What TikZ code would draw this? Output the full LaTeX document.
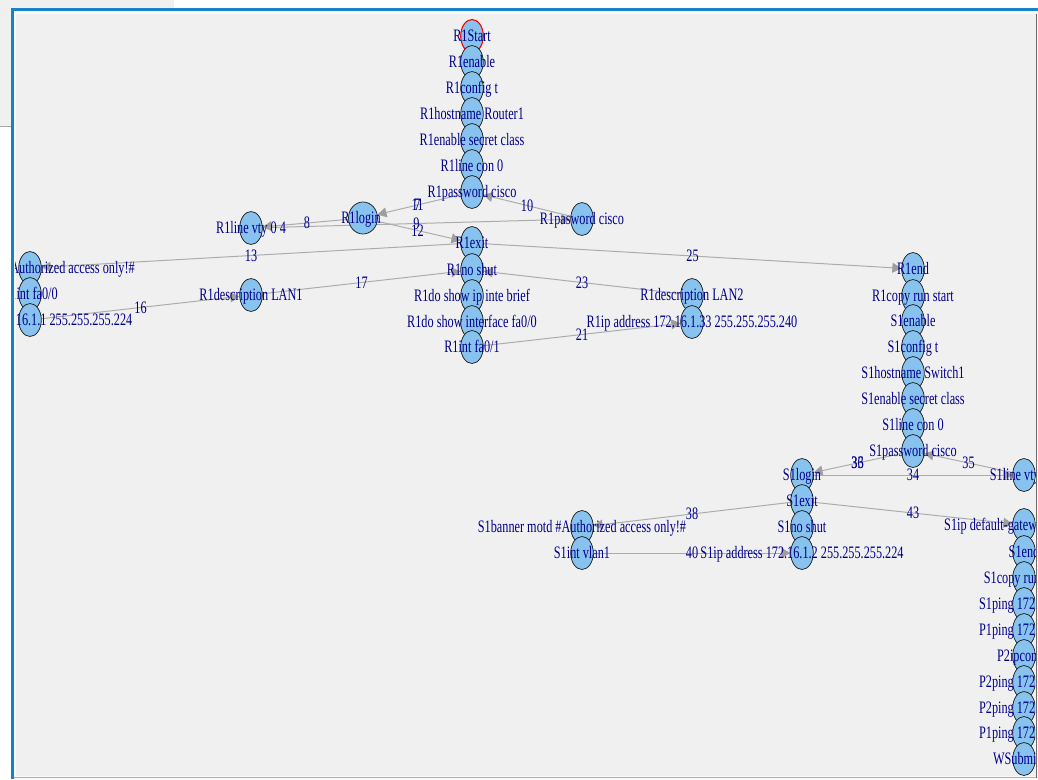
\documentclass[tikz,border=0pt]{standalone}
\usepackage{fontspec}
\newfontfamily\labelfont[FakeStretch=0.7,Ligatures=NoCommon]{Liberation Serif}
\usetikzlibrary{shapes.geometric,arrows.meta,calc}
\pgfdeclarelayer{bg}
\pgfdeclarelayer{edges}
\pgfdeclarelayer{front}
\pgfsetlayers{bg,edges,main,front}

\definecolor{vfill}{RGB}{135,195,238}
\definecolor{vline}{RGB}{35,35,35}
\definecolor{lbl}{RGB}{0,0,139}
\definecolor{egray}{RGB}{172,172,172}
\definecolor{agray}{RGB}{158,158,158}
\definecolor{winblue}{RGB}{22,132,196}
\definecolor{panel}{RGB}{240,240,240}
\definecolor{panelhi}{RGB}{248,248,248}

\tikzset{
  vert/.style={ellipse, draw=vline, fill=vfill, line width=0.75pt,
    minimum width=22.6pt, minimum height=33pt, inner sep=0pt},
  startvert/.style={vert, draw=red, line width=1.1pt},
  widevert/.style={vert, minimum width=29pt, minimum height=32pt},
  vtext/.style={font=\labelfont\fontsize{17.5}{18}\selectfont, text=lbl,
    inner sep=0pt, text height=11.6pt, text depth=0pt, anchor=center},
  elab/.style={vtext},
  link/.style={draw=egray, line width=1pt,
    -{Triangle[length=9pt,width=10pt,color=agray]}},
}

\begin{document}
\begin{tikzpicture}[x=1pt,y=-1pt]
\useasboundingbox (0,0) rectangle (1038,779);

% window chrome
\begin{pgfonlayer}{bg}
  \fill[white] (0,0) rectangle (1038,779);
  \fill[panel] (0,0) rectangle (174,8);
  \fill[panel] (0,0) rectangle (11,126);
  \draw[gray!70, line width=0.8pt] (0,126) -- (11,126);
  \fill[winblue] (11,8) rectangle (1038,779);
  \fill[panelhi] (14,11) rectangle (1038,779);
  \fill[panel] (16,14) rectangle (1036,776);
  \draw[gray!85!black, line width=1.2pt] (1036.4,14) -- (1036.4,778);
  \draw[gray!60, line width=1pt] (14,777.5) -- (1036,777.5);
\end{pgfonlayer}

% vertices
\begin{scope}
\clip (15,11) rectangle (1035,776);
\node[startvert] (R1Start)  at (472,36)  {};
\node[vert] (R1enable)  at (472,62)  {};
\node[vert] (R1configt) at (472,88)  {};
\node[vert] (R1host)    at (472,114) {};
\node[vert] (R1ensec)   at (472,140) {};
\node[vert] (R1con)     at (472,166) {};
\node[vert] (R1pw)      at (472,192) {};
\node[widevert] (R1login) at (363,218) {};
\node[vert] (R1vty)     at (251,228) {};
\node[vert] (R1pwb)     at (582,219) {};
\node[vert] (R1exit)    at (472,243) {};
\node[vert] (R1banner)  at (30,268)  {};
\node[vert] (R1fa00)    at (30,294)  {};
\node[vert] (R1ipa)     at (30,320)  {};
\node[vert] (R1lana)    at (251,295) {};
\node[vert] (R1noshut)  at (472,270) {};
\node[vert] (R1showip)  at (472,296) {};
\node[vert] (R1showif)  at (472,322) {};
\node[vert] (R1fa01)    at (472,347) {};
\node[vert] (R1lanb)    at (692,295) {};
\node[vert] (R1ipb)     at (692,322) {};
\node[vert] (R1end)     at (913,269) {};
\node[vert] (R1copy)    at (913,296) {};
\node[vert] (S1enable)  at (913,321) {};
\node[vert] (S1configt) at (913,347) {};
\node[vert] (S1host)    at (913,373) {};
\node[vert] (S1ensec)   at (913,399) {};
\node[vert] (S1con)     at (913,425) {};
\node[vert] (S1pw)      at (913,451) {};
\node[vert] (S1login)   at (802,475) {};
\node[vert] (S1vty)     at (1024,475) {};
\node[vert] (S1exit)    at (802,501) {};
\node[vert] (S1banner)  at (582,527) {};
\node[vert] (S1vlan)    at (582,553) {};
\node[vert] (S1noshut)  at (802,527) {};
\node[vert] (S1ip)      at (802,553) {};
\node[vert] (S1gw)      at (1024,525) {};
\node[vert] (S1end)     at (1024,552) {};
\node[vert] (S1copy)    at (1024,578) {};
\node[vert] (S1ping)    at (1024,604) {};
\node[vert] (P1ping)    at (1024,630) {};
\node[vert] (P2ipc)     at (1024,656) {};
\node[vert] (P2ping)    at (1024,682) {};
\node[vert] (P2pingb)   at (1024,708) {};
\node[vert] (P1pingb)   at (1024,733) {};
\node[vert] (WSub)      at (1024,759) {};
\end{scope}

% edges and their numbers
\begin{pgfonlayer}{edges}
\begin{scope}
\clip (15,11) rectangle (1035,776);
\foreach \a/\b in {R1Start/R1enable, R1enable/R1configt, R1configt/R1host,
  R1host/R1ensec, R1ensec/R1con, R1con/R1pw, R1pw/R1login, R1login/R1vty,
  R1vty/R1pwb, R1pwb/R1pw, R1login/R1exit, R1exit/R1banner,
  R1banner/R1fa00, R1fa00/R1ipa, R1ipa/R1lana, R1lana/R1noshut,
  R1noshut/R1showip, R1showip/R1showif, R1showif/R1fa01, R1fa01/R1ipb,
  R1ipb/R1lanb, R1lanb/R1noshut, R1noshut/R1exit, R1exit/R1end,
  R1end/R1copy, R1copy/S1enable, S1enable/S1configt, S1configt/S1host,
  S1host/S1ensec, S1ensec/S1con, S1con/S1pw, S1pw/S1login, S1login/S1vty,
  S1vty/S1pw, S1login/S1exit, S1exit/S1banner, S1banner/S1vlan,
  S1vlan/S1ip, S1ip/S1noshut, S1noshut/S1exit, S1exit/S1gw,
  S1gw/S1end, S1end/S1copy, S1copy/S1ping, S1ping/P1ping, P1ping/P2ipc,
  P2ipc/P2ping, P2ping/P2pingb, P2pingb/P1pingb, P1pingb/WSub}
  \draw[link] (\a) -- (\b);
\foreach \a/\b/\n in {R1pw/R1login/7, R1login/R1vty/8, R1vty/R1pwb/9,
  R1pwb/R1pw/10, R1pw/R1login/11, R1login/R1exit/12, R1exit/R1banner/13,
  R1ipa/R1lana/16, R1lana/R1noshut/17, R1fa01/R1ipb/21,
  R1lanb/R1noshut/23, R1exit/R1end/25, S1pw/S1login/33,
  S1login/S1vty/34, S1vty/S1pw/35, S1pw/S1login/36, S1exit/S1banner/38,
  S1vlan/S1ip/40, S1exit/S1gw/43}
  \node[elab] at ($(\a)!0.5!(\b)$) {\n};
\end{scope}
\end{pgfonlayer}

% vertex labels
\begin{pgfonlayer}{front}
\begin{scope}
\clip (15,11) rectangle (1035,776);
\node[vtext] at (R1Start)   {R1Start};
\node[vtext] at (R1enable)  {R1enable};
\node[vtext] at (R1configt) {R1config t};
\node[vtext] at (R1host)    {R1hostname Router1};
\node[vtext] at (R1ensec)   {R1enable secret class};
\node[vtext] at (R1con)     {R1line con 0};
\node[vtext] at (R1pw)      {R1password cisco};
\node[vtext] at ($(R1login)+(-2,0)$) {R1login};
\node[vtext] at (R1vty)     {R1line vty 0 4};
\node[vtext] at (R1pwb)     {R1pasword cisco};
\node[vtext] at (R1exit)    {R1exit};
\node[vtext] at (R1banner)  {R1banner motd \#Authorized access only!\#};
\node[vtext] at (R1fa00)    {R1int fa0/0};
\node[vtext] at (R1ipa)     {R1ip address 172.16.1.1 255.255.255.224};
\node[vtext] at (R1lana)    {R1description LAN1};
\node[vtext] at (R1noshut)  {R1no shut};
\node[vtext] at (R1showip)  {R1do show ip inte brief};
\node[vtext] at (R1showif)  {R1do show interface fa0/0};
\node[vtext] at (R1fa01)    {R1int fa0/1};
\node[vtext] at (R1lanb)    {R1description LAN2};
\node[vtext] at (R1ipb)     {R1ip address 172.16.1.33 255.255.255.240};
\node[vtext] at (R1end)     {R1end};
\node[vtext] at (R1copy)    {R1copy run start};
\node[vtext] at (S1enable)  {S1enable};
\node[vtext] at (S1configt) {S1config t};
\node[vtext] at (S1host)    {S1hostname Switch1};
\node[vtext] at (S1ensec)   {S1enable secret class};
\node[vtext] at (S1con)     {S1line con 0};
\node[vtext] at (S1pw)      {S1password cisco};
\node[vtext] at (S1login)   {S1login};
\node[vtext] at (S1vty)     {S1line vty 0 4};
\node[vtext] at (S1exit)    {S1exit};
\node[vtext] at (S1banner)  {S1banner motd \#Authorized access only!\#};
\node[vtext] at (S1vlan)    {S1int vlan1};
\node[vtext] at (S1noshut)  {S1no shut};
\node[vtext] at (S1ip)      {S1ip address 172.16.1.2 255.255.255.224};
\node[vtext] at (S1gw)      {S1ip default-gateway 172.16.1.1};
\node[vtext] at (S1end)     {S1end};
\node[vtext] at (S1copy)    {S1copy run start};
\node[vtext] at (S1ping)    {S1ping 172.16.1.1};
\node[vtext] at (P1ping)    {P1ping 172.16.1.2};
\node[vtext] at (P2ipc)     {P2ipconfig};
\node[vtext] at (P2ping)    {P2ping 172.16.1.1};
\node[vtext] at (P2pingb)   {P2ping 172.16.1.2};
\node[vtext] at (P1pingb)   {P1ping 172.16.1.3};
\node[vtext] at (WSub)      {WSubmitted};
\end{scope}
\end{pgfonlayer}
\end{tikzpicture}
\end{document}
